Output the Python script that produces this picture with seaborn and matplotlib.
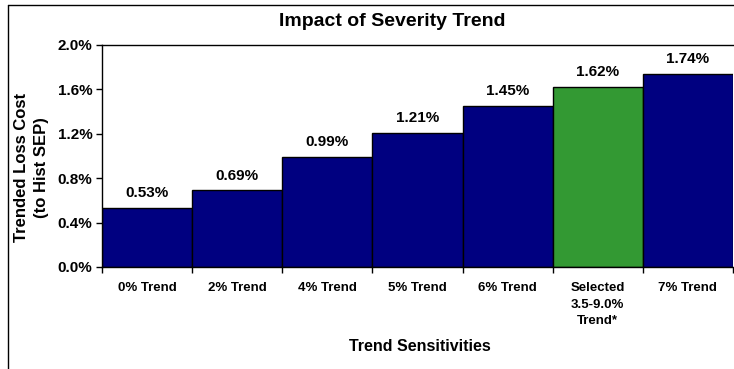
import seaborn as sns
import pandas as pd
import matplotlib.pyplot as plt
from matplotlib.lines import Line2D
from matplotlib.ticker import FuncFormatter

categories = ["0% Trend", "2% Trend", "4% Trend", "5% Trend", "6% Trend",
              "Selected\n3.5-9.0%\nTrend*", "7% Trend"]
values = [0.53, 0.69, 0.99, 1.21, 1.45, 1.62, 1.74]
bar_colors = ["#000080", "#000080", "#000080", "#000080", "#000080", "#339933", "#000080"]

sns.set_style("white")
plt.rcParams['font.family'] = ['Liberation Sans', 'DejaVu Sans']
plt.rcParams['font.weight'] = 'bold'
plt.rcParams['text.color'] = 'black'
plt.rcParams['axes.labelcolor'] = 'black'
plt.rcParams['xtick.color'] = 'black'
plt.rcParams['ytick.color'] = 'black'

df = pd.DataFrame({"cat": categories, "val": values})

fig = plt.figure(figsize=(7.34, 3.69), dpi=100)
ax = fig.add_axes([102 / 734, 102 / 369, 631 / 734, 222 / 369])

sns.barplot(data=df, x="cat", y="val", hue="cat", palette=bar_colors, saturation=1,
            width=1.0, edgecolor="black", linewidth=1, legend=False, ax=ax)

ax.set_ylim(0, 2.0)
ax.set_xlim(-0.5, len(categories) - 0.5)
ax.set_yticks([0, 0.4, 0.8, 1.2, 1.6, 2.0])
ax.yaxis.set_major_formatter(FuncFormatter(lambda v, p: f"{v:.1f}%"))
ax.tick_params(axis="y", labelsize=11, length=4, width=1, left=True, direction="out", pad=3)
ax.set_xticks([i - 0.5 for i in range(len(categories) + 1)], minor=False)
ax.set_xticklabels([])
ax.set_xticks(range(len(categories)), minor=True)
ax.set_xticklabels(categories, minor=True, fontsize=9.5, linespacing=1.5, va="top")
ax.tick_params(axis="x", which="major", length=4, width=1, bottom=True, direction="out")
ax.tick_params(axis="x", which="minor", length=0, pad=11)

for s in ["top", "left", "bottom"]:
    ax.spines[s].set_visible(True)
    ax.spines[s].set_color("black")
    ax.spines[s].set_linewidth(1)
ax.spines["right"].set_visible(False)

for i, v in enumerate(values):
    ax.text(i, v + 0.07, f"{v:.2f}%", ha="center", va="bottom", fontsize=11, fontweight="bold")

ax.set_xlabel("Trend Sensitivities", fontsize=11.5, fontweight="bold")
ax.xaxis.set_label_coords(0.504, -0.36)
ax.xaxis.label.set_va("center")
ax.set_ylabel("Trended Loss Cost\n(to Hist SEP)", fontsize=12, fontweight="bold", linespacing=1.45)
ax.yaxis.set_label_coords(-0.112, 0.45)
ax.yaxis.label.set_va("center")
fig.text(392 / 734, 1 - 21 / 369, "Impact of Severity Trend", ha="center", va="center",
         fontsize=14, fontweight="bold")

fig.add_artist(Line2D([8 / 734, 1], [1 - 5 / 369, 1 - 5 / 369], color="black", linewidth=1))
fig.add_artist(Line2D([8 / 734, 8 / 734], [0, 1 - 5 / 369], color="black", linewidth=1))

fig.savefig("out.png", dpi=100)
